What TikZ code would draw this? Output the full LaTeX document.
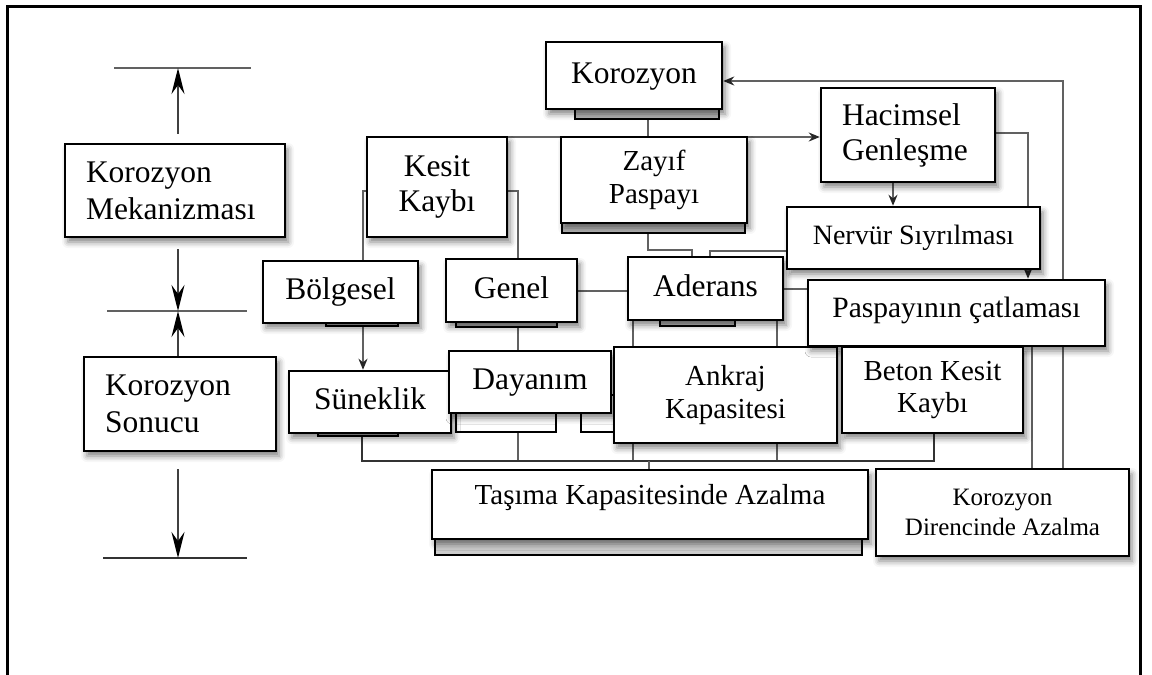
\documentclass[tikz,border=0pt]{standalone}
\usepackage{fontspec}
\setmainfont{Liberation Serif}
\usetikzlibrary{arrows.meta,shadows.blur}
\pgfdeclarelayer{bg}
\pgfdeclarelayer{plates}
\pgfsetlayers{bg,plates,main}
\begin{document}
\begin{tikzpicture}[x=1pt,y=-1pt,
  box/.style={draw=black, line width=2.5pt, fill=white, inner sep=0pt, align=center,
    blur shadow={shadow xshift=3pt, shadow yshift=-5pt, shadow blur radius=6pt, shadow opacity=50}},
  one/.style={text height=22pt, text depth=7pt},
  conn/.style={draw=black!62, line width=2pt},
  arr/.style={conn, -{Stealth[length=11pt,width=9pt,color=black!85]}},
  big/.style={draw=black!75, line width=2.5pt, -{Stealth[length=26pt,width=13pt,inset=9pt,color=black]}},
  tick/.style={draw=black!62, line width=2.5pt},
  plate/.style={draw=black, line width=2.5pt, fill=gray!55},
  wplate/.style={draw=black, line width=2pt, fill=white},
  fL/.style={font=\fontsize{31.5}{37}\selectfont},
  fM/.style={font=\fontsize{29}{33.5}\selectfont},
  fS/.style={font=\fontsize{25}{30}\selectfont},
]
\useasboundingbox (0,0) rectangle (1152,675);
% frame
\draw[line width=3pt] (7,675) -- (7,6) -- (1140,6) -- (1140,675);

% ---- left column ----
\node[box, fL, align=left, text width=178pt, inner xsep=21pt, minimum height=93pt] (KM) at (175,190.5) {Korozyon\\Mekanizması};
\node[box, fL, align=left, text width=150pt, inner xsep=21pt, minimum height=94pt] (KS) at (180,404) {Korozyon\\Sonucu};
\coordinate (t1) at (178,68);
\coordinate (t2) at (178,311);
\coordinate (t3) at (178,558);
\draw[tick] (114,68) -- (251,68);
\draw[tick] (107,311) -- (247,311);
\draw[tick, draw=black!80] (103,558) -- (247,558);
\draw[big, shorten <=9pt] (KM.north -| t1) -- (t1);
\draw[big, shorten <=11pt] (KM.south -| t2) -- (t2);
\draw[big] (KS.north -| t2) -- (t2);
\draw[big, shorten <=17pt] (KS.south -| t3) -- (t3);

% ---- main boxes ----
\node[box, fL, one, minimum width=176pt, minimum height=67pt] (Kor) at (634,75.5) {Korozyon};
\node[box, fM, minimum width=186pt, minimum height=86pt] (Zay) at (654,180) {Zayıf\\Paspayı};
\node[box, fL, font=\fontsize{31.5}{35}\selectfont, minimum width=140pt, minimum height=100pt] (Kes) at (437,187) {Kesit\\Kaybı};
\node[box, fL, one, minimum width=155pt, minimum height=62pt] (Bol) at (340.5,292) {Bölgesel};
\node[box, fL, one, minimum width=131pt, minimum height=63pt] (Gen) at (511.5,290.5) {Genel};
\node[box, fL, one, minimum width=155pt, minimum height=63pt] (Ade) at (705.5,288.5) {Aderans};
\node[box, fL, one, minimum width=162pt, minimum height=62pt] (Sun) at (370,402) {Süneklik};
\node[box, fL, one, minimum width=162pt, minimum height=62pt] (Day) at (530,382) {Dayanım};
\node[box, fM, minimum width=223pt, minimum height=96pt] (Ank) at (725.5,395) {Ankraj\\Kapasitesi};
\node[box, fL, font=\fontsize{31.5}{35}\selectfont, align=left, text width=132pt, inner xsep=21pt, minimum height=94pt] (Hac) at (908,135) {Hacimsel\\Genleşme};
\node[box, font=\fontsize{28}{32}\selectfont, text height=20pt, text depth=6.5pt, minimum width=253pt, minimum height=62pt] (Ner) at (913.5,238) {Nervür Sıyrılması};
\node[box, font=\fontsize{29.5}{34}\selectfont, text height=20pt, text depth=12pt, minimum width=297pt, minimum height=66pt] (Pas) at (956.5,313) {Paspayının çatlaması};
\node[box, fM, font=\fontsize{29}{32}\selectfont, minimum width=181pt, minimum height=86pt] (Bet) at (932.5,390) {Beton Kesit\\Kaybı};
\node[box, fM, text height=10pt, text depth=10pt, minimum width=436pt, minimum height=69pt] (Tas) at (650,504.5) {Taşıma Kapasitesinde Azalma};
\node[box, fS, minimum width=253pt, minimum height=87pt] (KD) at (1002.5,512.5) {Korozyon\\Direncinde Azalma};

% ---- plates ----
\begin{pgfonlayer}{plates}
\draw[plate] (575,100) rectangle (719,119);
\draw[plate] (562,215) rectangle (745,233);
\draw[plate, fill=gray!40] (435,530) rectangle (862,555);
\draw[plate] (456,315) rectangle (557,327);
\draw[plate] (660,312) rectangle (735,326);
\draw[plate] (326,315) rectangle (398,326);
\draw[plate] (318,425) rectangle (398,436);
\draw[wplate] (456,405) rectangle (556,432);
\draw[wplate] (581,395) rectangle (620,432);
\end{pgfonlayer}

% ---- connectors ----
\coordinate (j1) at (648,137);
\coordinate (k1) at (447,137);
\coordinate (fb) at (1063,81);
\coordinate (c1028) at (1028,0);
\coordinate (c1032) at (1032,0);
\coordinate (za) at (648,250);
\coordinate (zb) at (692,250);
\coordinate (na) at (710,251);
\coordinate (cb) at (363,0);
\coordinate (cg) at (518,0);
\coordinate (ca) at (633,0);
\coordinate (cc) at (777,0);
\coordinate (busL) at (362,461);
\coordinate (busR) at (934,461);
\coordinate (bt) at (649,461);
\begin{pgfonlayer}{bg}
\draw[conn] (Kor.south -| j1) -- (j1);
\draw[arr] (k1) -- (Hac.west |- k1);
\draw[arr] (KD.north -| fb) -- (fb) -- (Kor.east |- fb);
\draw[arr] ([xshift=-15pt]Hac.south) -- ([xshift=-15pt]Hac.south |- Ner.north);
\draw[arr] ([yshift=2pt]Hac.east) -| (c1028 |- Pas.north);
\draw[conn] (Pas.south -| c1032) -- (KD.north -| c1032);
\draw[conn] (Zay.south -| za) -- (za) -- (zb) -- (Ade.north -| zb);
\draw[conn] (Ner.west |- na) -- (na) -- (Ade.north -| na);
\draw[conn] (Gen.east) -- (Gen.east -| Ade.west);
\draw[conn] (Ade.east) -- (Ade.east -| Pas.west);
\draw[conn] ([yshift=-4pt]Kes.west) -| (cb |- Bol.north);
\draw[conn] ([yshift=-4pt]Kes.east) -| (cg |- Gen.north);
\draw[arr] (cb |- Bol.south) -- (cb |- Sun.north);
\draw[conn] (cg |- Gen.south) -- (cg |- busL);
\draw[conn] (ca |- Ade.south) -- (ca |- busL);
\draw[conn] (cc |- Ade.south) -- (cc |- busL);
\draw[conn, draw=black!80] (Sun.south -| busL) -- (busL) -- (busR) -- (Bet.south -| busR);
\draw[conn] (bt) -- (Tas.north -| bt);
\end{pgfonlayer}
\end{tikzpicture}
\end{document}
